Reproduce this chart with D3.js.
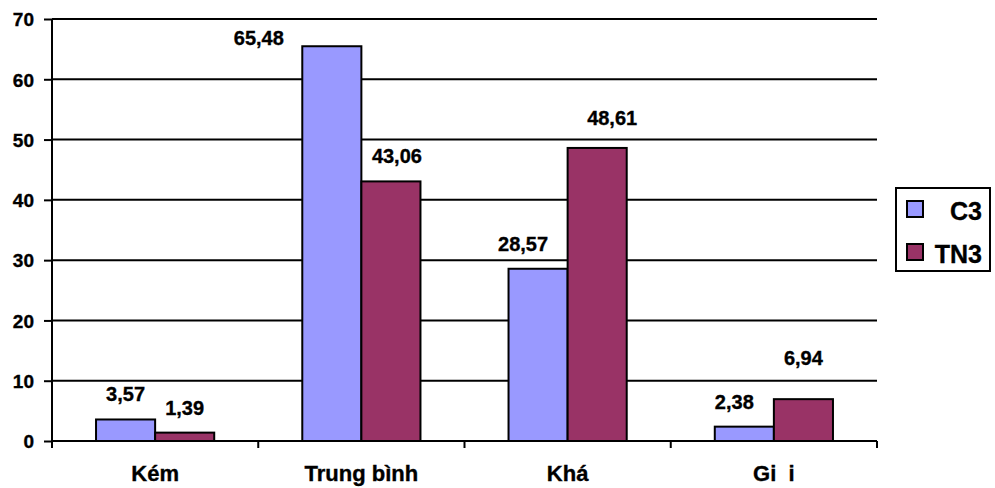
<!DOCTYPE html>
<html>
<head>
<meta charset="utf-8">
<script src="https://cdn.jsdelivr.net/npm/d3@7"></script>
<style>
  html, body { margin: 0; padding: 0; background: #fff; }
  svg { display: block; font-family: Arial, "Liberation Sans", Helvetica, sans-serif; font-weight: bold; }
  text { white-space: pre; stroke: #000; stroke-width: 0.35px; fill: #000; }
</style>
</head>
<body>
<svg id="chart" width="995" height="488"></svg>
<script>
// Grade distribution per class (percent)
const categories = ["Kém", "Trung bình", "Khá", "Gi  i"];
const seriesNames = ["C3", "TN3"];
const c3Values = [3.57, 65.48, 28.57, 2.38];
const tn3Values = [1.39, 43.06, 48.61, 6.94];
const yTicks = [0, 10, 20, 30, 40, 50, 60, 70];

const colors = { C3: "#9999FF", TN3: "#993366" };
const fmt = v => v.toFixed(2).replace(".", ",");

const svg = d3.select("#chart");
const margin = { left: 52, right: 118, top: 19, bottom: 47 };
const W = 995, H = 488;
const x0 = margin.left, x1 = W - margin.right;
const y0 = H - margin.bottom, y1 = margin.top;

const x = d3.scaleBand().domain(categories).range([x0, x1]).paddingInner(0.427).paddingOuter(0.2135);
const xs = d3.scaleBand().domain(seriesNames).range([0, x.bandwidth()]);
const xBand = d3.scaleBand().domain(categories).range([x0, x1]);
const y = d3.scaleLinear().domain([0, 70]).range([y0, y1]);

// Gridlines
svg.append("g").selectAll("line").data(yTicks.filter(t => t > 0)).join("line")
  .attr("x1", x0).attr("x2", x1)
  .attr("y1", d => y(d)).attr("y2", d => y(d))
  .attr("stroke", "#000").attr("stroke-width", 2);

// Y axis
const yAxis = svg.append("g").attr("transform", `translate(${x0},0)`)
  .call(d3.axisLeft(y).tickValues(yTicks).tickSize(8).tickPadding(10).tickFormat(d3.format("d")));
yAxis.select(".domain").attr("stroke", "#000").attr("stroke-width", 2).attr("d", `M0,${y1}V${y0 + 7}`);
yAxis.selectAll(".tick line").attr("stroke", "#000").attr("stroke-width", 2);
yAxis.selectAll(".tick text").attr("fill", "#000").style("font-size", "19px").style("font-family", null).attr("dy", "0.36em");

// Data
const rows = categories.map((c, i) => ({ cat: c, C3: c3Values[i], TN3: tn3Values[i] }));

// Bars
const groups = svg.append("g").selectAll("g").data(rows).join("g")
  .attr("transform", d => `translate(${x(d.cat)},0)`);
groups.selectAll("rect").data(d => seriesNames.map(s => ({ s, v: d[s] }))).join("rect")
  .attr("x", d => xs(d.s)).attr("width", xs.bandwidth())
  .attr("y", d => y(d.v)).attr("height", d => y(0) - y(d.v))
  .attr("fill", d => colors[d.s]).attr("stroke", "#000").attr("stroke-width", 2);

// X axis
const xAxis = svg.append("g").attr("transform", `translate(0,${y0})`);
xAxis.append("line").attr("x1", x0).attr("x2", x1).attr("stroke", "#000").attr("stroke-width", 2);
xAxis.selectAll(".tk").data(d3.range(categories.length + 1)).join("line").attr("class", "tk")
  .attr("x1", i => x0 + i * xBand.step()).attr("x2", i => x0 + i * xBand.step())
  .attr("y1", 0).attr("y2", 7).attr("stroke", "#000").attr("stroke-width", 2);
xAxis.selectAll("text").data(categories).join("text")
  .attr("x", d => xBand(d) + xBand.bandwidth() / 2).attr("y", 40)
  .attr("text-anchor", "middle").style("font-size", "22px").text(d => d);

// Value labels (individually nudged like the original layout)
const labelNudge = {
  "C3": [[0, 0], [-73, 17], [-15, 0], [-10, 0]],
  "TN3": [[0, 0], [6, 0], [15, -5], [0, -16]]
};
groups.selectAll("text").data((d, i) => seriesNames.map(s => ({ s, v: d[s], i }))).join("text")
  .attr("x", d => xs(d.s) + xs.bandwidth() / 2 + labelNudge[d.s][d.i][0])
  .attr("y", d => y(d.v) - 18 + labelNudge[d.s][d.i][1])
  .attr("text-anchor", "middle").style("font-size", "20px").text(d => fmt(d.v));

// Legend
const lg = svg.append("g").attr("transform", "translate(896,188)");
lg.append("rect").attr("width", 94).attr("height", 83).attr("fill", "#fff").attr("stroke", "#000").attr("stroke-width", 2);
const items = lg.selectAll("g").data(seriesNames).join("g")
  .attr("transform", (d, i) => `translate(0,${13 + i * 43})`);
items.append("rect").attr("x", 11).attr("width", 16).attr("height", 16)
  .attr("fill", d => colors[d]).attr("stroke", "#000").attr("stroke-width", 2);
items.append("text").attr("x", 86).attr("y", 19).attr("text-anchor", "end")
  .style("font-size", "25px").text(d => d);
</script>
</body>
</html>
